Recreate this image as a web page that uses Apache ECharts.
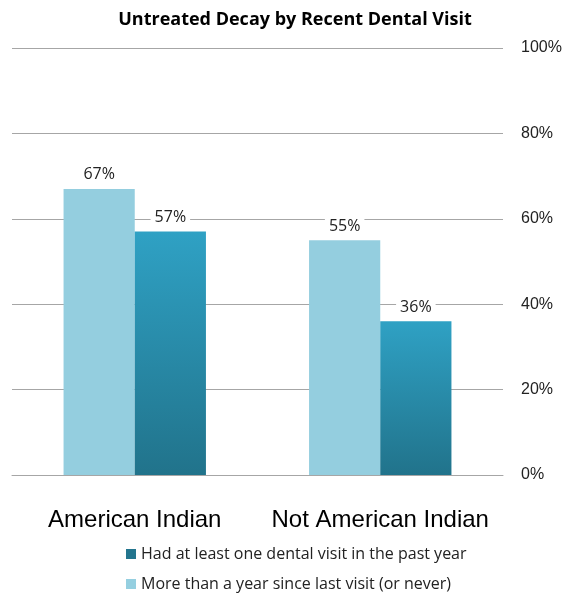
<!DOCTYPE html>
<html>
<head>
<meta charset="utf-8">
<script src="https://cdn.jsdelivr.net/npm/echarts@6/dist/echarts.min.js"></script>
<style>
  html, body { margin: 0; padding: 0; background: #fff; }
  #chart { width: 566px; height: 594px; }
</style>
</head>
<body>
<div id="chart"></div>
<script>
// Untreated decay share by group, split by time since last dental visit
const categories = ['American Indian', 'Not American Indian'];
const seriesNames = ['Had at least one dental visit in the past year', 'More than a year since last visit (or never)'];
const recentVisit = [57, 36];
const noRecentVisit = [67, 55];
const yTicks = [0, 20, 40, 60, 80, 100];

const chart = echarts.init(document.getElementById('chart'));

const labelStyle = {
  show: true,
  position: 'top',
  distance: 5,
  formatter: p => p.value + '%',
  fontFamily: 'Open Sans',
  fontSize: 16,
  color: '#222',
  backgroundColor: '#fff',
  padding: [1, 4]
};

const legendText = { fontFamily: 'Open Sans', fontSize: 16, color: '#222' };

chart.setOption({
  animation: false,
  title: {
    text: 'Untreated Decay by Recent Dental Visit',
    left: 290,
    top: 6,
    textAlign: 'center',
    textStyle: { fontFamily: 'Open Sans', fontWeight: 'bold', fontSize: 18, color: '#000' }
  },
  legend: [
    {
      left: 121, top: 541,
      itemWidth: 10, itemHeight: 10, icon: 'rect',
      data: [{ name: seriesNames[0], itemStyle: { color: '#23758e' } }],
      textStyle: legendText
    },
    {
      left: 121, top: 571,
      itemWidth: 10, itemHeight: 10, icon: 'rect',
      data: [{ name: seriesNames[1], itemStyle: { color: '#95cfe0' } }],
      textStyle: legendText
    }
  ],
  grid: { left: 12, right: 63, top: 48, bottom: 119, containLabel: false },
  xAxis: {
    type: 'category',
    data: categories,
    axisLine: { lineStyle: { color: '#a6a6a6' } },
    axisTick: { show: false },
    axisLabel: { interval: 0, fontFamily: 'Liberation Sans', fontSize: 24, color: '#000', margin: 33 }
  },
  yAxis: {
    type: 'value',
    position: 'right',
    min: yTicks[0],
    max: yTicks[yTicks.length - 1],
    interval: 20,
    axisLine: { show: false },
    axisTick: { show: false },
    splitLine: { lineStyle: { color: '#a6a6a6' } },
    axisLabel: { formatter: '{value}%', fontFamily: 'Liberation Sans', fontSize: 16, color: '#222', margin: 18 }
  },
  series: [
    {
      name: seriesNames[1],
      type: 'bar',
      data: noRecentVisit,
      barWidth: '29%',
      barGap: '0%',
      itemStyle: { color: '#94cedf' },
      label: labelStyle,
      z: 3
    },
    {
      name: seriesNames[0],
      type: 'bar',
      data: recentVisit,
      barWidth: '29%',
      itemStyle: {
        color: new echarts.graphic.LinearGradient(0, 0, 0, 1, [
          { offset: 0, color: '#2fa1c4' },
          { offset: 1, color: '#21738b' }
        ])
      },
      label: labelStyle,
      z: 3
    }
  ]
});
</script>
</body>
</html>
